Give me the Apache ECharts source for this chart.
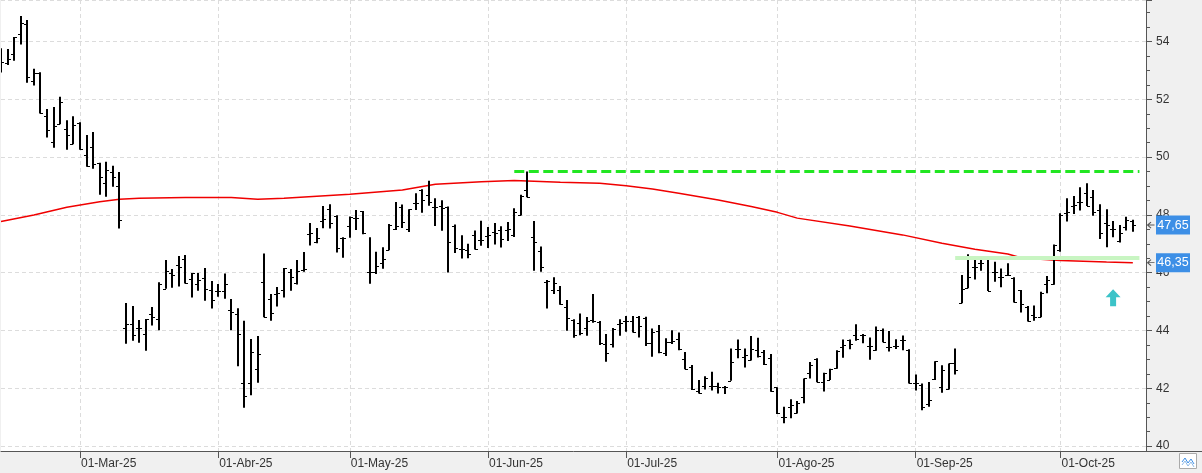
<!DOCTYPE html>
<html>
<head>
<meta charset="utf-8">
<style>
  html, body { margin: 0; padding: 0; background: #f0f0f0; }
  #chart { width: 1202px; height: 473px; }
</style>
<script src="https://cdn.jsdelivr.net/npm/echarts@6/dist/echarts.min.js"></script>
</head>
<body>
<div id="chart"></div>
<script>
// trading calendar: weekdays from the first session, minus market holidays
const firstSession = '2025-02-13'
const holidays = ['2025-04-18', '2025-04-21', '2025-05-01']
const emptySlots = 2 // free sessions after the last bar
const monthNames = ['Ene', 'Feb', 'Mar', 'Abr', 'May', 'Jun', 'Jul', 'Ago', 'Sep', 'Oct', 'Nov', 'Dic']

// daily OHLC
const open = [
  53.63, 53.25, 53.57, 54.26, 54.60, 52.64, 52.93, 51.42, 50.52, 51.14, 50.98, 50.45, 51.17, 50.08, 50.35, 49.79, 49.10, 49.47, 49.00,
  44.10, 44.21, 44.07, 43.87, 44.56, 44.39, 45.45, 45.98, 46.27, 46.46, 45.77, 45.61, 45.81, 45.39, 45.37, 45.37, 44.71, 44.57, 42.17, 42.17,
  42.66, 45.67, 45.09, 45.25, 45.40, 46.01, 45.63, 46.08, 47.35, 47.08, 47.80, 48.20, 47.96, 47.19, 47.62, 47.88, 48.13, 46.01, 46.01, 46.33,
  46.79, 47.50, 48.29, 47.53, 48.43, 48.86, 48.69, 48.26, 48.31, 48.26, 47.62, 46.83, 46.79, 47.32, 47.13, 47.27, 47.42, 47.48, 47.48, 47.31,
  47.99, 48.85, 47.25, 46.75, 45.69, 45.40, 45.40, 44.83, 44.36, 44.25, 44.07, 44.35, 44.31, 43.53, 43.53, 44.21, 44.34, 44.34, 44.48, 44.42,
  43.56, 43.99, 43.23, 43.61, 43.69, 43.00, 42.75, 41.92, 42.08, 42.08, 42.08, 42.03, 42.26, 43.35, 43.09, 42.98, 43.33, 43.27, 43.04, 42.03,
  41.02, 41.36, 41.13, 41.71, 42.52, 43.00, 42.22, 42.29, 42.69, 43.44, 43.68, 43.86, 43.83, 43.45, 43.32, 44.02, 43.44, 43.47, 43.67, 43.32,
  42.20, 42.11, 41.45, 42.31, 42.05, 41.99, 42.86, 44.96, 45.46, 46.19, 46.35, 46.53, 46.04, 45.84, 45.92, 45.81, 45.40, 44.82, 44.53, 44.48,
  45.61, 45.61, 46.79, 48.06, 48.32, 48.46, 48.75, 48.63, 48.17, 47.71, 47.50, 47.11, 47.60, 47.80
]
const high = [
  53.77, 53.74, 54.16, 54.89, 54.75, 53.06, 52.94, 51.67, 51.74, 52.09, 51.28, 51.42, 51.21, 50.77, 50.87, 49.81, 49.84, 49.70, 49.49,
  44.95, 44.85, 44.36, 44.40, 44.81, 45.67, 46.44, 46.13, 46.58, 46.61, 45.99, 45.99, 46.16, 45.71, 45.61, 45.97, 45.09, 44.77, 44.34, 43.71,
  43.81, 46.67, 45.26, 45.51, 46.16, 46.13, 46.44, 46.72, 47.72, 47.55, 48.31, 48.37, 47.99, 47.23, 47.95, 48.17, 48.14, 47.23, 46.73, 46.88,
  47.69, 48.45, 48.36, 48.20, 48.75, 48.89, 49.18, 48.58, 48.51, 48.29, 47.67, 47.30, 47.00, 47.46, 47.80, 47.58, 47.72, 47.61, 47.76, 48.23,
  48.70, 49.50, 47.79, 46.91, 45.75, 45.84, 45.54, 45.06, 44.39, 44.59, 44.47, 45.26, 44.33, 43.88, 44.09, 44.39, 44.50, 44.50, 44.50, 44.48,
  44.07, 44.19, 43.73, 44.01, 43.93, 43.26, 42.81, 42.29, 42.42, 42.57, 42.19, 42.08, 43.38, 43.69, 43.38, 43.81, 43.75, 43.33, 43.19, 42.04,
  41.36, 41.62, 41.56, 42.34, 42.91, 43.04, 42.54, 42.68, 43.32, 43.69, 43.69, 44.22, 43.88, 43.76, 44.14, 44.07, 43.98, 43.70, 43.83, 43.35,
  42.48, 42.17, 42.22, 42.94, 42.80, 42.86, 43.38, 45.92, 46.64, 46.58, 46.53, 46.56, 46.38, 46.15, 46.33, 45.84, 45.40, 44.85, 44.87, 45.34,
  45.89, 46.98, 48.06, 48.58, 48.66, 48.96, 49.10, 48.86, 48.37, 48.20, 47.79, 47.65, 47.94, 47.83
]
const low = [
  52.93, 53.19, 53.34, 53.90, 52.58, 52.48, 51.51, 50.68, 50.33, 51.14, 50.26, 50.45, 50.26, 49.67, 49.60, 48.70, 48.63, 48.98, 47.53,
  43.54, 43.65, 43.58, 43.30, 44.17, 44.01, 45.45, 45.48, 45.52, 45.63, 45.14, 45.38, 45.03, 44.76, 45.17, 45.10, 44.01, 42.76, 41.33, 41.76,
  42.19, 44.46, 44.34, 44.83, 45.14, 45.38, 45.59, 46.03, 46.94, 47.02, 47.54, 47.53, 46.70, 46.52, 47.21, 47.48, 47.33, 45.62, 45.96, 46.14,
  46.78, 47.48, 47.55, 47.41, 48.17, 48.08, 48.32, 47.62, 47.45, 46.01, 46.68, 46.49, 46.50, 46.80, 46.93, 46.86, 46.98, 46.87, 47.10, 47.24,
  47.98, 48.61, 46.07, 46.03, 44.76, 45.26, 44.89, 43.99, 43.75, 43.84, 43.82, 44.27, 43.50, 42.92, 43.41, 43.82, 43.96, 43.93, 43.76, 43.46,
  43.09, 43.21, 43.12, 43.53, 43.32, 42.66, 41.94, 41.82, 41.96, 41.92, 41.82, 41.80, 42.26, 43.04, 42.72, 42.96, 43.07, 42.81, 41.88, 41.11,
  40.79, 40.96, 41.13, 41.48, 42.34, 42.21, 41.89, 42.29, 42.68, 43.06, 43.35, 43.65, 43.56, 42.99, 43.30, 43.59, 43.27, 43.36, 43.32, 42.17,
  41.92, 41.24, 41.36, 42.29, 41.85, 41.96, 42.48, 44.94, 45.46, 45.77, 46.07, 45.37, 45.69, 45.50, 45.89, 44.97, 44.62, 44.31, 44.34, 44.46,
  45.29, 45.58, 46.73, 47.77, 48.03, 48.15, 48.31, 47.97, 47.17, 46.88, 47.23, 47.05, 47.46, 47.42
]
const close = [
  53.31, 53.39, 54.15, 54.64, 52.77, 52.92, 51.52, 50.93, 51.07, 51.90, 50.76, 51.10, 50.27, 49.70, 49.77, 49.30, 49.55, 49.33, 47.82,
  44.21, 43.83, 44.10, 44.39, 44.46, 45.61, 46.05, 45.92, 46.20, 45.63, 45.98, 45.75, 45.43, 45.05, 45.38, 45.61, 44.64, 43.87, 41.73, 43.24,
  43.19, 44.48, 44.59, 45.29, 46.15, 45.84, 46.06, 46.12, 47.37, 47.19, 47.85, 47.71, 46.87, 47.19, 47.92, 47.88, 47.36, 46.01, 46.23, 46.48,
  47.64, 47.61, 47.76, 48.19, 48.43, 48.52, 48.44, 48.29, 48.23, 47.05, 46.87, 46.83, 46.64, 46.83, 47.13, 47.31, 47.36, 47.16, 47.50, 48.11,
  48.67, 48.62, 47.05, 46.21, 45.72, 45.66, 44.92, 44.42, 43.84, 43.93, 44.34, 44.34, 43.58, 43.23, 44.06, 44.27, 44.34, 43.95, 44.17, 43.56,
  43.96, 43.24, 43.59, 43.63, 43.36, 42.68, 41.97, 41.85, 42.34, 42.08, 42.06, 42.03, 42.92, 43.35, 43.15, 43.35, 43.12, 42.83, 41.92, 41.13,
  41.02, 41.41, 41.50, 42.34, 42.80, 42.23, 42.54, 42.68, 43.29, 43.49, 43.53, 43.71, 43.83, 43.45, 44.02, 43.61, 43.44, 43.47, 43.67, 42.17,
  42.20, 41.36, 41.60, 42.94, 42.63, 42.86, 42.65, 45.45, 45.86, 46.19, 46.35, 45.38, 46.04, 45.84, 45.92, 44.97, 44.92, 44.33, 44.48, 45.31,
  45.75, 46.96, 48.00, 48.11, 48.35, 48.46, 48.32, 48.09, 47.36, 47.65, 47.50, 47.39, 47.83, 47.65
]

// moving average, read at these session indices
const maIdx = [0, 5, 10, 15, 18, 21, 28, 35, 39, 43, 53, 61, 66, 73, 78, 83, 85, 91, 95, 99, 103, 109, 114, 118, 121, 129, 137, 143, 148, 153, 155, 158, 161, 168, 172]
const maVal = [47.77, 48.00, 48.27, 48.46, 48.54, 48.58, 48.60, 48.60, 48.54, 48.58, 48.72, 48.86, 49.06, 49.15, 49.19, 49.15, 49.13, 49.10, 49.01, 48.90, 48.75, 48.52, 48.29, 48.09, 47.89, 47.62, 47.31, 47.02, 46.81, 46.65, 46.52, 46.47, 46.42, 46.37, 46.35]

// drawn levels: [value, first session, last session]
const resistance = [49.53, 78, 173]
const support = [46.52, 145, 173]
const arrowAt = [169, 45.13]

// build session dates
const dates = []
{
  const d = new Date(firstSession + 'T12:00:00Z')
  while (dates.length < open.length + emptySlots) {
    const s = d.toISOString().slice(0, 10)
    const wd = d.getUTCDay()
    if (wd !== 0 && wd !== 6 && !holidays.includes(s)) dates.push(s)
    d.setUTCDate(d.getUTCDate() + 1)
  }
}
const monthStart = dates.map((s, i) => i > 0 && s.slice(5, 7) !== dates[i - 1].slice(5, 7))
const isMonthStart = (i) => monthStart[i]
const lastSlot = dates.length - 1
const lastClose = close[close.length - 1]
const lastMa = maVal[maVal.length - 1]
const fmt = (v) => v.toFixed(2).replace('.', ',')

const ohlcData = open.map((o, i) => [i, o, high[i], low[i], close[i]])
const maData = maIdx.map((k, j) => [dates[k], maVal[j]])

const renderOhlc = (params, api) => {
  const i = api.value(0)
  const hi = api.coord([i, api.value(2)])
  const lo = api.coord([i, api.value(3)])
  const op = api.coord([i, api.value(1)])
  const cl = api.coord([i, api.value(4)])
  const x = Math.round(hi[0])
  const oy = Math.round(op[1]) + 0.5
  const cy = Math.round(cl[1]) + 0.5
  return {
    type: 'group',
    children: [
      { type: 'line', shape: { x1: x, y1: hi[1], x2: x, y2: lo[1] }, style: { stroke: '#000', lineWidth: 2 } },
      { type: 'line', shape: { x1: x - 3, y1: oy, x2: x, y2: oy }, style: { stroke: '#000', lineWidth: 1 } },
      { type: 'line', shape: { x1: x, y1: cy, x2: x + 3, y2: cy }, style: { stroke: '#000', lineWidth: 1 } }
    ]
  }
}

const priceTag = (v) => ({
  coord: [dates[lastSlot], v],
  symbol: 'rect',
  symbolSize: [34, 19],
  symbolOffset: [27, 0],
  itemStyle: { color: '#3d8fe6' },
  label: { show: true, formatter: fmt(v), color: '#fff', fontSize: 12.5, fontFamily: 'Liberation Sans' }
})
const tagPointer = (v) => ({
  coord: [dates[lastSlot], v],
  symbol: 'path://M4,0 L0,3 L4,6 M0,3 L8,3',
  symbolSize: [7, 6],
  symbolOffset: [5, 0],
  itemStyle: { color: 'transparent', borderColor: '#555', borderWidth: 1 },
  label: { show: false }
})

const chart = echarts.init(document.getElementById('chart'))

chart.setOption({
  backgroundColor: '#f0f0f0',
  animation: false,
  textStyle: { fontFamily: 'Liberation Sans' },
  grid: { left: 1, right: 56, top: 0, bottom: 22, show: true, backgroundColor: '#fff', borderWidth: 0 },
  xAxis: {
    type: 'category',
    data: dates,
    boundaryGap: false,
    axisLine: { lineStyle: { color: '#555', width: 1 } },
    axisTick: { interval: isMonthStart, length: 7, lineStyle: { color: '#555' } },
    axisLabel: {
      interval: isMonthStart,
      align: 'left',
      margin: 7,
      padding: [0, 0, 0, 1],
      color: '#333',
      fontSize: 12,
      formatter: (s) => '01-' + monthNames[+s.slice(5, 7) - 1] + '-' + s.slice(2, 4)
    },
    splitLine: { show: true, interval: isMonthStart, lineStyle: { color: '#dcdcdc', type: [4, 3] } }
  },
  yAxis: {
    type: 'value',
    position: 'right',
    min: 39.83,
    max: 55.44,
    splitNumber: 8,
    axisLine: { show: true, lineStyle: { color: '#555' } },
    axisTick: { show: true, length: 6, lineStyle: { color: '#555' } },
    minorTick: { show: true, splitNumber: 4, length: 4, lineStyle: { color: '#555' } },
    axisLabel: {
      margin: 10,
      color: '#333',
      fontSize: 12,
      formatter: (v) => (Math.abs(v % 2) < 1e-6 ? String(v) : '')
    },
    splitLine: { show: true, lineStyle: { color: '#dcdcdc', type: [4, 3] } }
  },
  series: [
    {
      name: 'Media',
      type: 'line',
      z: 1,
      data: maData,
      symbol: 'none',
      silent: true,
      lineStyle: { color: '#f00000', width: 1.5 },
      markLine: {
        silent: true,
        symbol: 'none',
        label: { show: false },
        data: [
          [
            { coord: [dates[resistance[1]], resistance[0]], lineStyle: { color: '#22e622', width: 3, type: [10, 4.5] } },
            { coord: [dates[resistance[2]], resistance[0]] }
          ],
          [
            { coord: [dates[support[1]], support[0]], lineStyle: { color: '#c8f5c2', width: 4, type: 'solid' } },
            { coord: [dates[support[2]], support[0]] }
          ]
        ]
      },
      markPoint: {
        silent: true,
        data: [
          priceTag(lastClose),
          priceTag(lastMa),
          tagPointer(lastClose),
          tagPointer(lastMa),
          {
            coord: [dates[arrowAt[0]], arrowAt[1]],
            symbol: 'path://M7.5,0 L15,8 L10.5,8 L10.5,17 L4.5,17 L4.5,8 L0,8 Z',
            symbolSize: [15, 17],
            itemStyle: { color: '#3cc3c8' },
            label: { show: false }
          }
        ]
      }
    },
    {
      name: 'OHLC',
      type: 'custom',
      z: 2,
      data: ohlcData,
      encode: { x: 0, y: [1, 2, 3, 4] },
      renderItem: renderOhlc,
      clip: true,
      silent: true
    }
  ],
  graphic: [
    { type: 'line', shape: { x1: 1146, y1: 451.5, x2: 1202, y2: 451.5 }, style: { stroke: '#555', lineWidth: 1 } },
    { type: 'rect', shape: { x: 1179.5, y: 453.5, width: 17, height: 15 }, style: { fill: '#fff', stroke: '#aaa', lineWidth: 1 } },
    { type: 'polyline', shape: { points: [[1182, 462], [1185, 458], [1188, 463], [1191, 459], [1194, 464]] }, style: { stroke: '#3d8fe6', lineWidth: 1, fill: null } },
    { type: 'polyline', shape: { points: [[1182, 465], [1185, 461], [1188, 466], [1191, 462], [1194, 467]] }, style: { stroke: '#8fbbe8', lineWidth: 1, fill: null } }
  ]
})
</script>
</body>
</html>
